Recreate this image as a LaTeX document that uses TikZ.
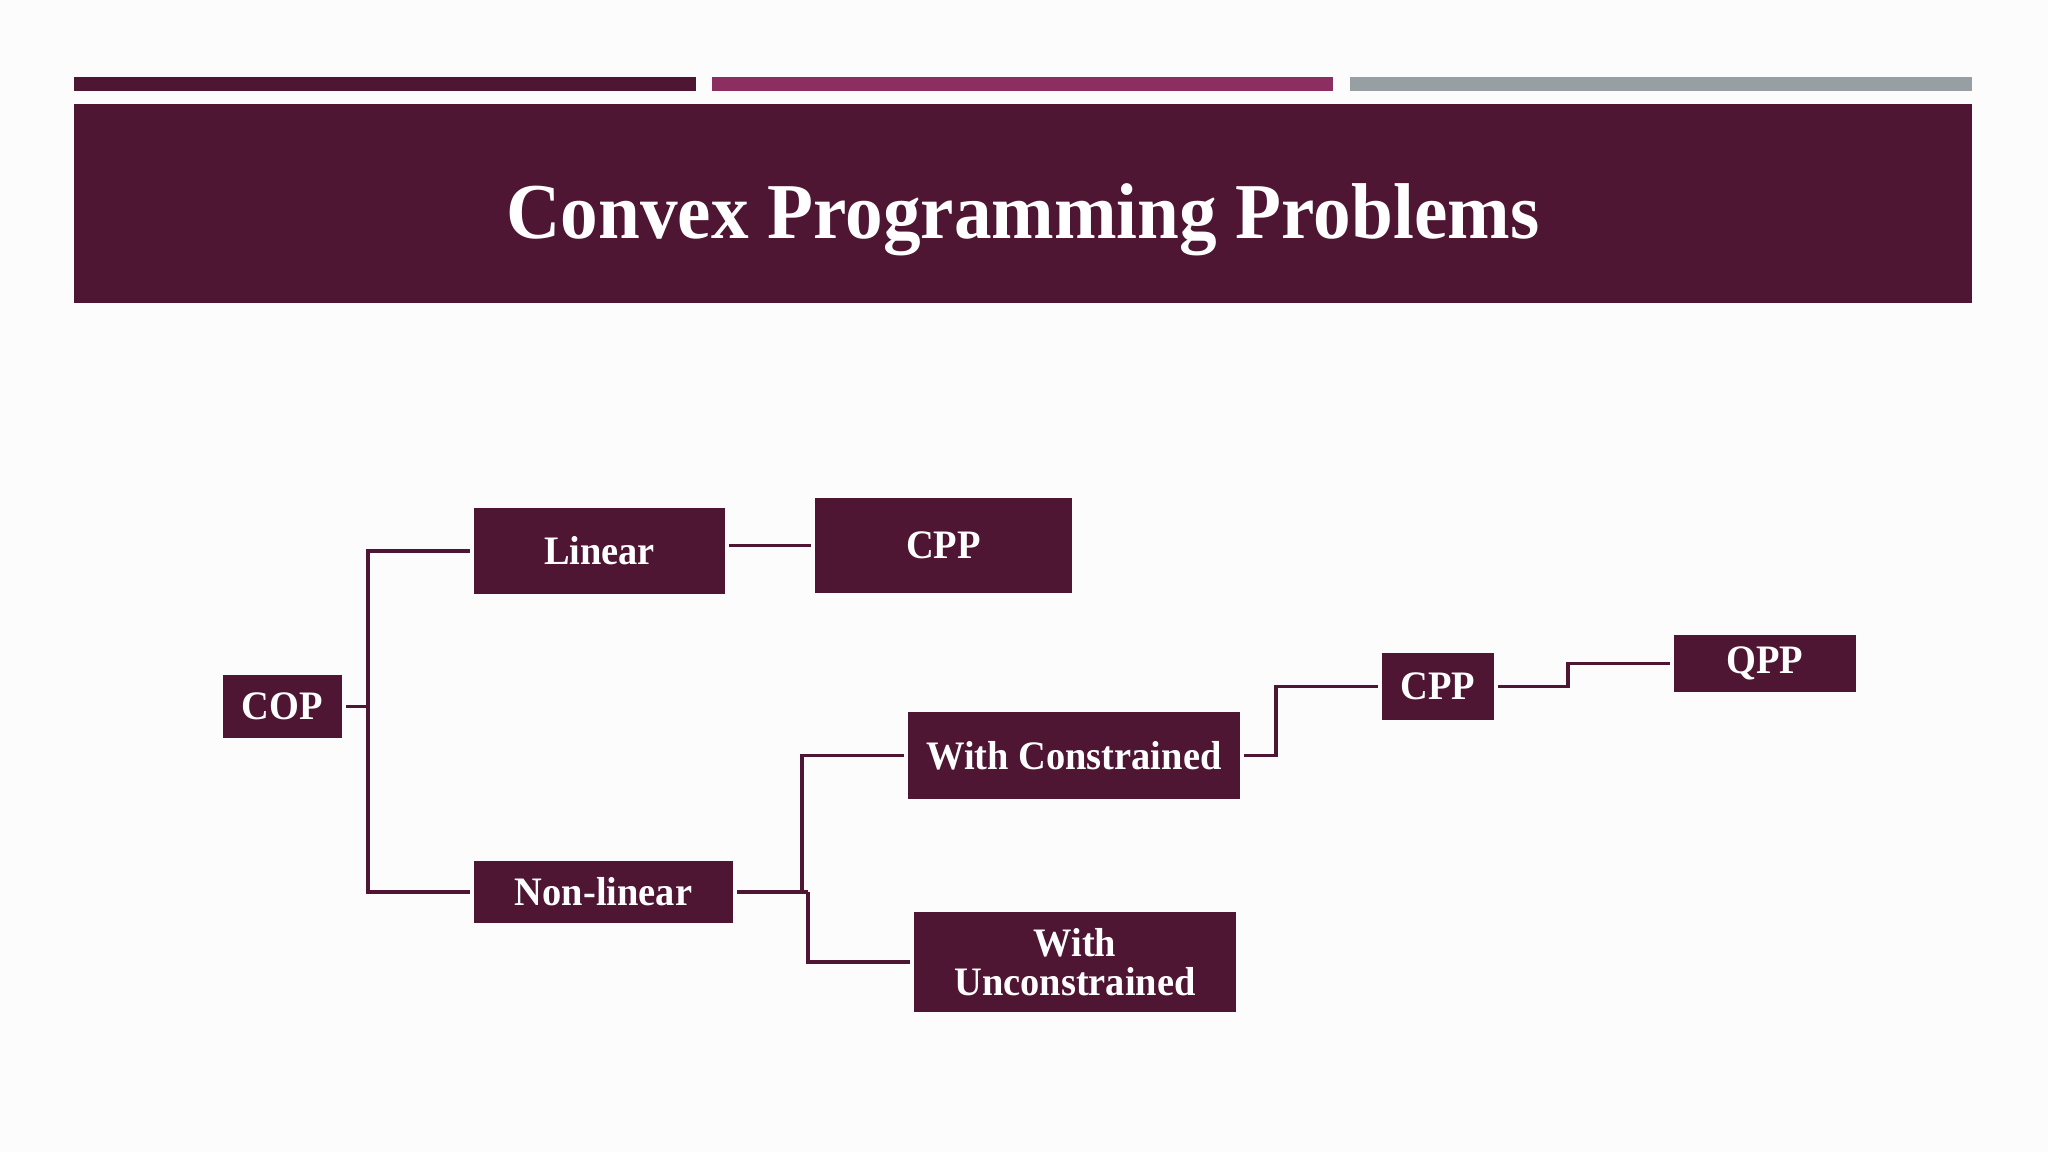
\documentclass[tikz,border=0pt]{standalone}
\usepackage{fontspec}
\setmainfont{Liberation Serif}
\newfontfamily\narrowserif[FakeStretch=0.95]{Liberation Serif}
\usepackage{xcolor}
\usetikzlibrary{positioning}

\definecolor{maroon}{HTML}{4F1634}
\definecolor{berry}{HTML}{8C2F60}
\definecolor{slate}{HTML}{979FA2}

\begin{document}
\begin{tikzpicture}[
x=0.01cm,y=-0.01cm,
box/.style={
fill=maroon,
inner sep=0pt,
outer sep=1.2pt,
align=center,
text=white,
font=\narrowserif\fontsize{11.5}{11.1}\selectfont\bfseries
},
link/.style={draw=maroon,line width=1pt}
]

\useasboundingbox (0,0) rectangle (2048,1152);
\fill[white!99!black] (0,0) rectangle (2048,1152);

%---------------- Header ----------------%

\fill[maroon] (74,77) rectangle (696,91);
\fill[berry] (712,77) rectangle (1333,91);
\fill[slate] (1350,77) rectangle (1972,91);

\fill[maroon] (74,104) rectangle (1972,303);

\node[anchor=base,text=white,font=\narrowserif\fontsize{22.5}{26}\selectfont\bfseries] (title) at (1023,239)
{Convex Programming Problems};

%---------------- Boxes ----------------%

\node[box,minimum width=1.19cm,minimum height=0.63cm] (cop) at (282.5,706.5) {COP};

\node[box,minimum width=2.51cm,minimum height=0.86cm] (linear) at (599.5,551) {Linear};

\node[box,minimum width=2.57cm,minimum height=0.95cm] (cppA) at (943.5,545.5) {CPP};

\node[box,minimum width=2.59cm,minimum height=0.62cm] (nonlinear) at (603.5,892) {Non-linear};

\node[box,minimum width=3.32cm,minimum height=0.87cm] (withc) at (1074,755.5)
{With Constrained};

\node[box,minimum width=3.22cm,minimum height=1.00cm] (withu) at (1075,962)
{With\\Unconstrained};

\node[box,minimum width=1.12cm,minimum height=0.67cm] (cppB) at (1438,686.5) {CPP};

\node[box,minimum width=1.82cm,minimum height=0.57cm] (qpp) at (1765,663.5) {QPP};

%---------------- Connections ----------------%

\coordinate (copsplit) at (368,706.5);
\coordinate (nlsplitA) at (802,892);
\coordinate (nlsplitB) at (808,892);
\coordinate (wcsplit) at (1276,755.5);
\coordinate (cppsplit) at (1568,686.5);

\draw[link] (cop)--(copsplit);
\draw[link] (linear.west)-|(copsplit)|-(nonlinear.west);

\draw[link] (linear.east|-cppA.west)--(cppA.west);

\draw[link] (nonlinear)--(nlsplitB);
\draw[link] (nlsplitA)|-(withc.west);
\draw[link] (nlsplitB)|-(withu.west);

\draw[link] (withc)--(wcsplit)|-(cppB.west);
\draw[link] (cppB)--(cppsplit)|-(qpp.west);

\end{tikzpicture}
\end{document}
